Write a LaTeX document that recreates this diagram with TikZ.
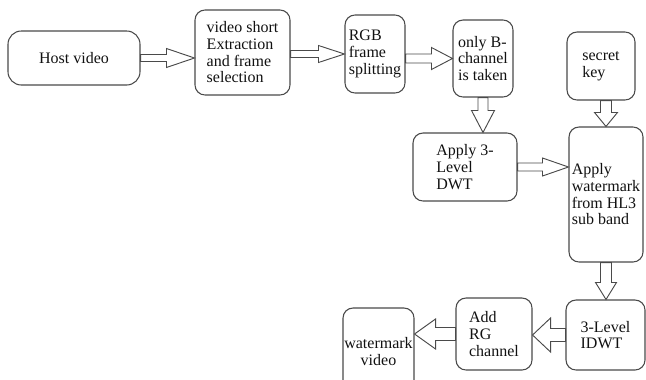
\documentclass[tikz,border=0pt]{standalone}
\usepackage{fontspec}
\setmainfont{Liberation Serif}
\usetikzlibrary{calc}
\definecolor{Edge}{HTML}{4A4A4A}
\definecolor{Ink}{HTML}{111111}
\tikzset{
  stepbox/.style={draw=Edge,fill=white,rounded corners=7.5pt,line width=0.8pt,align=left,font=\fontsize{12}{12.5}\selectfont,text=Ink,inner xsep=2pt,inner ysep=2pt},
  boxsize/.style 2 args={minimum width=#1*0.75pt,minimum height=#2*0.75pt},
  hollow/.style n args={3}{draw=Edge,fill=white,line width=0.7pt,line join=miter,
    to path={let \p1=(\tikztostart), \p2=(\tikztotarget), \p3=($(\p2)!#3*0.75pt!(\p1)$) in
      ($(\p1)!#1*0.75pt!90:(\p2)$) -- ($(\p3)!#1*0.75pt!90:(\p2)$) -- ($(\p3)!#2*0.75pt!90:(\p2)$)
      -- (\p2) -- ($(\p3)!#2*0.75pt!-90:(\p2)$) -- ($(\p3)!#1*0.75pt!-90:(\p2)$)
      -- ($(\p1)!#1*0.75pt!-90:(\p2)$) -- cycle}}
}

\begin{document}
\begin{tikzpicture}[x=0.75pt,y=-0.75pt]
  \useasboundingbox (0,0) rectangle (646,379);
  % top row
  \node[stepbox,boxsize={132}{54},rounded corners=10pt,align=center] (host) at (74,58) {Host video};
  \node[stepbox,boxsize={95}{85}] (video) at (242.5,52.5) {video short\\Extraction\\and frame\\selection};
  \node[stepbox,boxsize={60}{78}] (rgb) at (375,54) {RGB\\frame\\splitting};
  \node[stepbox,boxsize={60}{77}] (bchan) at (483,58.5) {only B-\\channel\\is taken};
  \node[stepbox,boxsize={68}{68}] (key) at (601,66) {secret\\key};
  % middle
  \node[stepbox,boxsize={104}{68}] (dwt) at (465,167) {Apply 3-\\Level\\DWT};
  \node[stepbox,boxsize={74}{135},inner xsep=1pt] (apply) at (606,194.5) {Apply\\watermark\\from HL3\\sub band};
  % bottom row
  \node[stepbox,boxsize={79}{70}] (idwt) at (605.5,335) {3-Level\\IDWT};
  \node[stepbox,boxsize={76}{72}] (addrg) at (494,334) {Add\\RG\\channel};
  \node[stepbox,boxsize={71}{87},inner xsep=0pt,align=center] (wmv) at (378.5,351.5) {watermark\\video};

  \draw[hollow={3.5}{9.5}{28}] (host.east) to (host.east -| video.west);
  \draw[hollow={3.5}{8.5}{26}] (rgb.west -| video.east) to (rgb.west);
  \draw[hollow={4.5}{11}{21}] (bchan.west -| rgb.east) to (bchan.west);
  \draw[hollow={5}{11.5}{22}] (bchan.south) to (bchan.south |- dwt.north);
  \draw[hollow={5.5}{11.5}{14}] (apply.north |- key.south) to (apply.north);
  \draw[hollow={4}{9}{26}] (dwt.east) to (dwt.east -| apply.west);
  \draw[hollow={5.5}{10.5}{17}] (apply.south) to (apply.south |- idwt.north);
  \draw[hollow={6.5}{17}{18}] (idwt.west) to (idwt.west -| addrg.east);
  \draw[hollow={6.5}{15}{21}] (addrg.west) to (addrg.west -| wmv.east);
\end{tikzpicture}
\end{document}
